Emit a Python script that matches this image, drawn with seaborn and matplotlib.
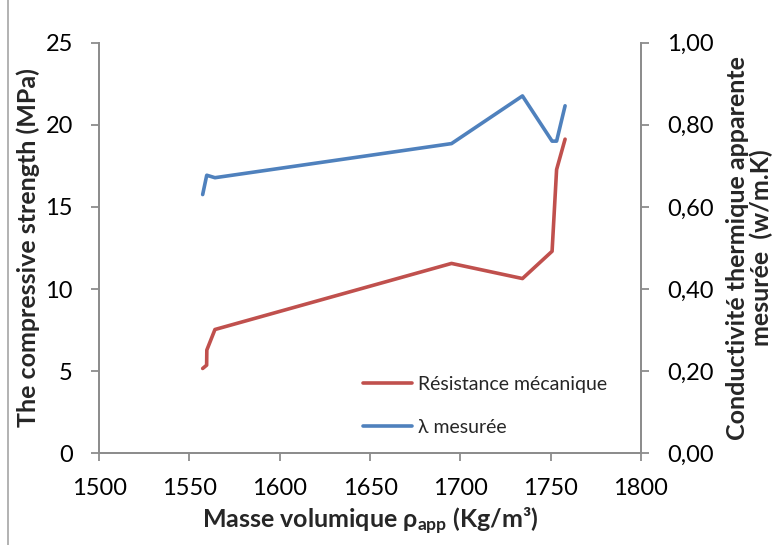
import matplotlib
matplotlib.use("Agg")
import matplotlib.pyplot as plt
import seaborn as sns
import pandas as pd
from matplotlib.lines import Line2D
from matplotlib.ticker import FuncFormatter

# Measured samples: apparent density, compressive strength, thermal conductivity
density = [1557.3, 1559.5, 1559.6, 1564.1, 1695.1, 1734.4, 1750.8, 1753.3, 1758.0]
strength = [5.17, 5.37, 6.29, 7.54, 11.56, 10.64, 12.30, 17.27, 19.12]
conductivity = [0.630, 0.676, 0.677, 0.671, 0.754, 0.870, 0.760, 0.760, 0.846]

x_ticks = [1500, 1550, 1600, 1650, 1700, 1750, 1800]
y_ticks = [0, 5, 10, 15, 20, 25]
y2_ticks = [0.0, 0.2, 0.4, 0.6, 0.8, 1.0]

sns.set_theme(style="white")
plt.rcParams["font.family"] = ["Lato", "DejaVu Sans"]
plt.rcParams["mathtext.fontset"] = "custom"
plt.rcParams["mathtext.rm"] = "Lato"
plt.rcParams["mathtext.bf"] = "Lato:bold"
plt.rcParams["mathtext.it"] = "Lato:italic"

df = pd.DataFrame({"density": density, "strength": strength, "conductivity": conductivity})

red = "#C0504D"
blue = "#4F81BD"
grey = "#8C8C8C"

fig = plt.figure(figsize=(7.75, 5.45), dpi=100)
ax = fig.add_axes([0.128, 0.168, 0.699, 0.754])
ax2 = ax.twinx()

sns.lineplot(data=df, x="density", y="strength", sort=False, ax=ax,
             color=red, linewidth=2.6, estimator=None)
sns.lineplot(data=df, x="density", y="conductivity", sort=False, ax=ax2,
             color=blue, linewidth=2.6, estimator=None)

ax.set_xlim(1500, 1800)
ax.set_ylim(0, 25)
ax2.set_ylim(0, 1.0)
ax.set_xticks(x_ticks)
ax.set_yticks(y_ticks)
ax2.set_yticks(y2_ticks)
ax2.yaxis.set_major_formatter(FuncFormatter(lambda v, p: f"{v:.2f}".replace(".", ",")))

for a in (ax, ax2):
    a.grid(False)
    a.spines["top"].set_visible(False)
    for s in ("left", "right", "bottom"):
        a.spines[s].set_color(grey)
        a.spines[s].set_linewidth(1.3)
    a.tick_params(axis="both", which="major", direction="out", length=6,
                  width=1.3, color=grey, labelsize=17, labelcolor="black")

ax.tick_params(axis="y", left=True, pad=13)
ax.tick_params(axis="x", bottom=True, pad=12)
ax2.tick_params(axis="y", right=True, pad=13)

ax.set_xlabel("Masse volumique ρ$_{\\mathbf{app}}$ (Kg/m³)", fontsize=18,
              fontweight="bold", labelpad=5)
ax.set_ylabel("The compressive strength (MPa)", fontsize=18, fontweight="bold",
              labelpad=4)
ax2.set_ylabel("Conductivité thermique apparente\nmesurée  (w/m.K)", fontsize=18,
               fontweight="bold", labelpad=9, linespacing=1.0)

handles = [Line2D([], [], color=red, linewidth=2.6),
           Line2D([], [], color=blue, linewidth=2.6)]
ax.legend(handles, ["Résistance mécanique", "λ mesurée"], loc="lower left",
          bbox_to_anchor=(0.455, 0.0), frameon=False, fontsize=14,
          labelspacing=1.35, handlelength=2.5, handletextpad=0.3)

fig.add_artist(Line2D([8 / 775, 8 / 775], [0, 1], transform=fig.transFigure,
                      color="#A6A6A6", linewidth=1.2))

fig.savefig("out.png", dpi=100)
